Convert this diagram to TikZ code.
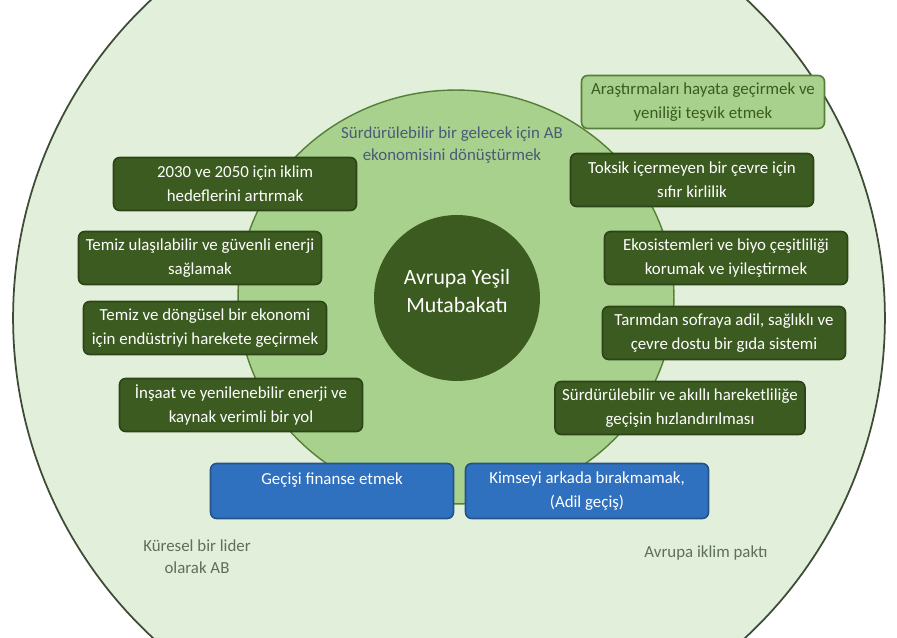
\documentclass[tikz,border=0pt]{standalone}
\usepackage{fontspec}
\setmainfont{Carlito}
\usepackage{tikz}

\definecolor{outerfill}{HTML}{E2EFDA}
\definecolor{outerline}{HTML}{3E4C36}
\definecolor{innerfill}{HTML}{A9D18E}
\definecolor{innerline}{HTML}{557F36}
\definecolor{deepgreen}{HTML}{3B5B20}
\definecolor{boxline}{HTML}{2C4418}
\definecolor{bluefill}{HTML}{2F70BF}
\definecolor{blueline}{HTML}{26528A}
\definecolor{slate}{HTML}{4A5A78}
\definecolor{sage}{HTML}{5F7058}

\begin{document}
\begin{tikzpicture}[x=0.02cm,y=-0.02cm,
    goal/.style={draw=boxline, line width=0.9pt, fill=deepgreen, rounded corners=3.5pt,
      text=white, align=center, minimum width=4.86cm, minimum height=1.06cm, inner sep=1pt,
      font=\fontsize{9.6}{13.5}\selectfont},
    lightgoal/.style={goal, fill=innerfill, draw=innerline, text=deepgreen},
    fundbox/.style={goal, fill=bluefill, draw=blueline, minimum height=1.1cm},
    hubtext/.style={text=white, align=center, font=\fontsize{12.4}{16}\selectfont},
    ringtext/.style={align=center, font=\fontsize{9.6}{12.5}\selectfont}]
  % frame of the picture
  \useasboundingbox (0,0) rectangle (897,638);
  \fill[white] (0,0) rectangle (897,638);
  \clip (0,0) rectangle (897,638);
  % the three circles
  \draw[fill=outerfill, draw=outerline, line width=1pt] (449,318) circle [radius=8.72cm];
  \draw[fill=innerfill, draw=innerline, line width=0.8pt] (456,297) ellipse [x radius=4.36cm, y radius=4.14cm];
  \fill[deepgreen] (457,298) circle [radius=1.66cm];
  \node[hubtext] (core) at (457,291) {Avrupa Yeşil\\Mutabakatı};
  % left column
  \node[goal] (climate) at (235,184) {2030 ve 2050 için iklim\\hedeflerini artırmak};
  \node[goal] (energy) at (200,258) {Temiz ulaşılabilir ve güvenli enerji\\sağlamak};
  \node[goal] (industry) at (205,328) {Temiz ve döngüsel bir ekonomi\\için endüstriyi harekete geçirmek};
  \node[goal] (building) at (241,405) {İnşaat ve yenilenebilir enerji ve\\kaynak verimli bir yol};
  % right column
  \node[lightgoal] (research) at (703,102) {Araştırmaları hayata geçirmek ve\\yeniliği teşvik etmek};
  \node[goal] (pollution) at (692,180) {Toksik içermeyen bir çevre için\\sıfır kirlilik};
  \node[goal] (nature) at (726,258) {Ekosistemleri ve biyo çeşitliliği\\korumak ve iyileştirmek};
  \node[goal] (food) at (724,333) {Tarımdan sofraya adil, sağlıklı ve\\çevre dostu bir gıda sistemi};
  \node[goal, minimum width=5cm] (mobility) at (680,408) {Sürdürülebilir ve akıllı hareketliliğe\\geçişin hızlandırılması};
  % bottom
  \node[fundbox] (finance) at (332,491) {Geçişi finanse etmek\\\mbox{}};
  \node[fundbox] (justtrans) at (587,491) {Kimseyi arkada bırakmamak,\\(Adil geçiş)};
  % free texts
  \node[ringtext, text=slate] (aim) at (452,145) {Sürdürülebilir bir gelecek için AB\\ekonomisini dönüştürmek};
  \node[ringtext, text=sage] (leader) at (197,557) {Küresel bir lider\\olarak AB};
  \node[ringtext, text=sage] (pact) at (706,553) {Avrupa iklim paktı};
\end{tikzpicture}
\end{document}
